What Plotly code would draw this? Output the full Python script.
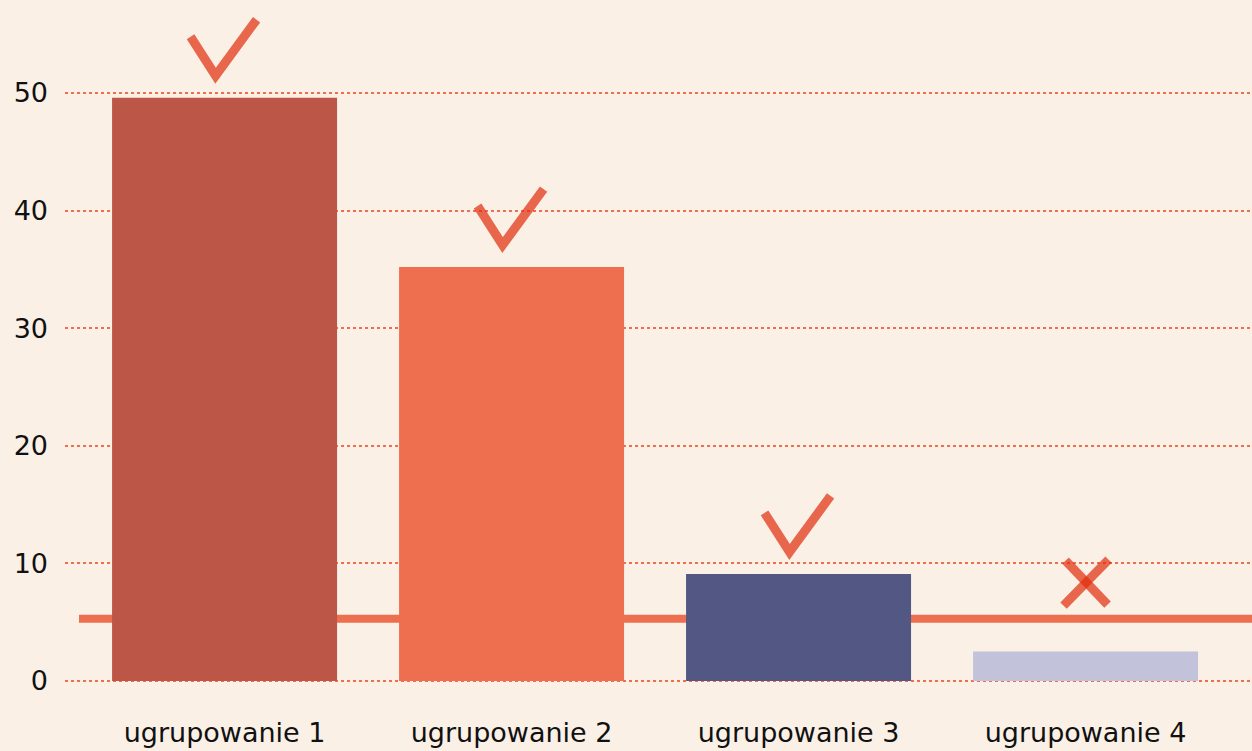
import plotly.graph_objects as go

categories = ["ugrupowanie 1", "ugrupowanie 2", "ugrupowanie 3", "ugrupowanie 4"]
values = [49.6, 35.2, 9.1, 2.5]
bar_colors = ["#BC5646", "#EE6F4F", "#525883", "#C2C2DA"]
threshold = 5.3
passed = [True, True, True, False]
y_ticks = [0, 10, 20, 30, 40, 50]

BG = "#FBF0E6"
ACCENT = "#EE6F4F"
MARK = "rgb(225,45,10)"
FONT = "DejaVu Sans"

x_idx = list(range(len(categories)))

fig = go.Figure()
fig.add_trace(go.Bar(
    x=x_idx, y=values, marker=dict(color=bar_colors, line=dict(width=0)),
    hoverinfo="skip", showlegend=False,
))

# threshold line (behind the bars)
fig.add_shape(type="line", xref="paper", yref="y", x0=0.0118, x1=1,
              y0=threshold, y1=threshold, layer="below",
              line=dict(color=ACCENT, width=8))

# check / cross icons, sized in pixels, anchored at the bar tops
for i, (v, ok) in enumerate(zip(values, passed)):
    if ok:
        fig.add_shape(type="path", xref="x", yref="y",
                      xsizemode="pixel", ysizemode="pixel",
                      xanchor=i, yanchor=v,
                      path="M -34,61 L -9,22 L 32,78",
                      line=dict(color=MARK, width=9), opacity=0.7, layer="above")
    else:
        for p in ["M -20,91 L 22,47", "M 23,92 L -22,46"]:
            fig.add_shape(type="path", xref="x", yref="y",
                          xsizemode="pixel", ysizemode="pixel",
                          xanchor=i, yanchor=v, path=p,
                          line=dict(color=MARK, width=9), opacity=0.7, layer="above")

fig.update_layout(
    width=1252, height=751,
    paper_bgcolor=BG, plot_bgcolor=BG,
    margin=dict(l=65, r=0, t=10, b=61),
    bargap=0.216,
    font=dict(family=FONT, size=27, color="#111111"),
    xaxis=dict(range=[-0.556, 3.580], tickmode="array", tickvals=x_idx,
               ticktext=categories, showgrid=False, zeroline=False,
               showline=False, ticks="", ticklabelstandoff=24,
               tickfont=dict(size=27)),
    yaxis=dict(range=[-0.77, 57.06], tickmode="array", tickvals=y_ticks,
               showgrid=True, gridcolor=ACCENT, gridwidth=2, griddash="dot",
               zeroline=False, showline=False, ticks="", ticklabelstandoff=16,
               tickfont=dict(size=27)),
)

fig.write_html("out.html", config={"displayModeBar": False},
               post_script="document.body.style.margin='0';document.body.style.background='#FBF0E6';")
